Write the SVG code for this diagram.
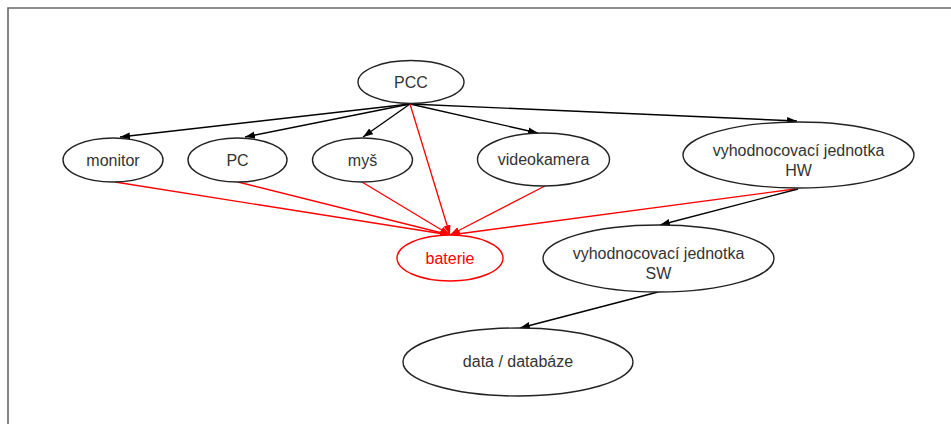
<svg xmlns="http://www.w3.org/2000/svg" width="951" height="424" viewBox="0 0 951 424">
<defs>
<marker id="ab" markerWidth="11" markerHeight="8" refX="10" refY="3.5" orient="auto" markerUnits="userSpaceOnUse"><path d="M0,0 L10,3.5 L0,7 z" fill="#000"/></marker>
<marker id="ar" markerWidth="11" markerHeight="8" refX="10" refY="3.5" orient="auto" markerUnits="userSpaceOnUse"><path d="M0,0 L10,3.5 L0,7 z" fill="#f00"/></marker>
</defs>
<style>
.n ellipse{fill:#fff;stroke:#222;stroke-width:1.4}
.n text{font-family:"Liberation Sans",Arial,sans-serif;font-size:16px;fill:#333;text-anchor:middle}
.r ellipse{stroke:#f00}
.r text{fill:#f00}
.e{fill:none;stroke:#000;stroke-width:1.4;marker-end:url(#ab)}
.er{fill:none;stroke:#f00;stroke-width:1.3;marker-end:url(#ar)}
</style>
<rect width="951" height="424" fill="#fff"/>
<path d="M8,424 V8 H951" fill="none" stroke="#666" stroke-width="1.6"/>
<g id="connectors">
<path class="e" d="M410,104 L120,137"/>
<path class="e" d="M410,104 L245,137"/>
<path class="e" d="M410,104 L363,137"/>
<path class="e" d="M410,104 L538,133"/>
<path class="e" d="M410,104 L797,121"/>
<path class="er" d="M410,104 L450,235"/>
<path class="er" d="M115,182 L450,235"/>
<path class="er" d="M238,182 L450,235"/>
<path class="er" d="M362,182 L450,235"/>
<path class="er" d="M545,186 L450,235"/>
<path class="er" d="M795,189 L450,235"/>
<path class="e" d="M798,189 L660,225"/>
<path class="e" d="M658,292 L520,328"/>
</g>
<g id="pcc" class="n"><ellipse cx="411" cy="82" rx="53" ry="21.5"/><text x="411" y="88">PCC</text></g>
<g id="monitor" class="n"><ellipse cx="113" cy="160" rx="50" ry="22"/><text x="113" y="166">monitor</text></g>
<g id="pc" class="n"><ellipse cx="237.5" cy="160" rx="49.5" ry="22"/><text x="237.5" y="166">PC</text></g>
<g id="mys" class="n"><ellipse cx="362.5" cy="160" rx="50" ry="22"/><text x="362.5" y="166">myš</text></g>
<g id="videokamera" class="n"><ellipse cx="543.5" cy="159.5" rx="66" ry="26.5"/><text x="543.5" y="165">videokamera</text></g>
<g id="hw" class="n"><ellipse cx="798.5" cy="155" rx="115.5" ry="33"/><text x="798.5" y="156">vyhodnocovací jednotka</text><text x="798.5" y="176">HW</text></g>
<g id="baterie" class="n r"><ellipse cx="450" cy="258" rx="53" ry="23"/><text x="450" y="264">baterie</text></g>
<g id="sw" class="n"><ellipse cx="658.5" cy="258.5" rx="115.5" ry="33.5"/><text x="658.5" y="259">vyhodnocovací jednotka</text><text x="658.5" y="279">SW</text></g>
<g id="data" class="n"><ellipse cx="518" cy="362" rx="115" ry="34"/><text x="518" y="367">data / databáze</text></g>
</svg>
